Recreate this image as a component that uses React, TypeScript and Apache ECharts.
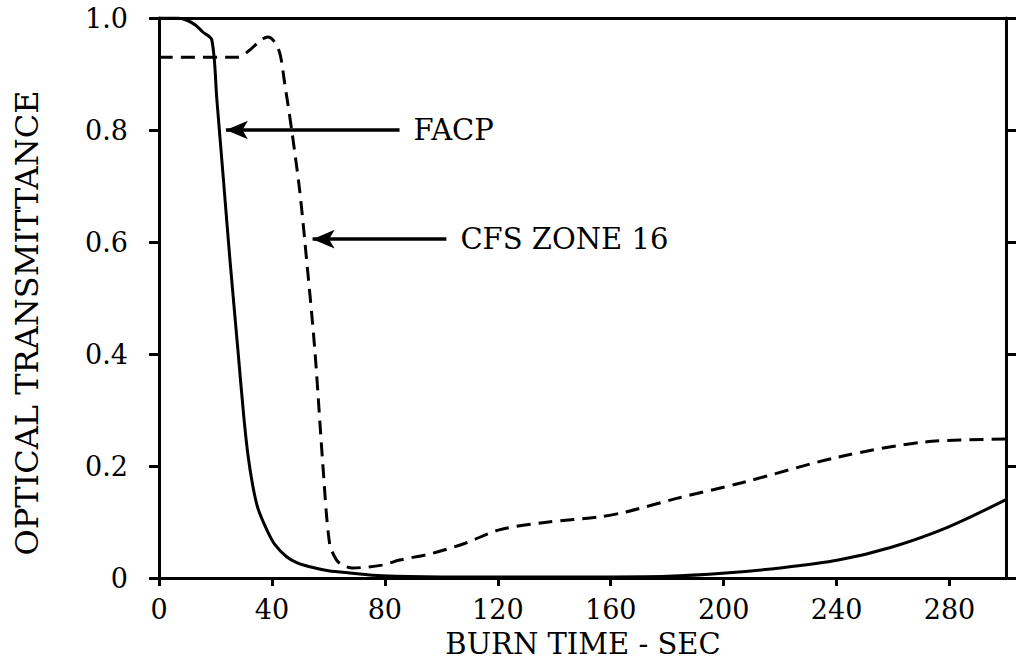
import React, { useEffect, useRef } from "react";
import * as echarts from "echarts";

// Burn time (s) and optical transmittance
const facpX = [0, 6.4, 9.9, 13, 15.5, 18.7, 20.5, 23, 25.1, 27.9, 30, 31.5, 33.2, 35, 38.2, 41, 45.2, 49, 53.4, 60, 67.5, 79, 100, 120, 160, 180, 200.7, 220, 240.6, 259.4, 279.5, 300];
const facpY = [1.0, 1.0, 0.996, 0.987, 0.975, 0.961, 0.854, 0.7, 0.57, 0.41, 0.29, 0.22, 0.165, 0.125, 0.086, 0.06, 0.038, 0.027, 0.02, 0.013, 0.009, 0.004, 0.002, 0.002, 0.002, 0.003, 0.009, 0.018, 0.032, 0.055, 0.091, 0.14];

const cfsX = [0, 27.9, 32.2, 35.5, 38.5, 40.5, 42.8, 44.5, 47, 49.8, 51.6, 55.1, 58, 60.4, 62.9, 65.5, 68.6, 79, 85.2, 96.8, 108.7, 120.5, 138, 155.8, 165.4, 184, 206.4, 240.6, 271.4, 300];
const cfsY = [0.93, 0.93, 0.943, 0.958, 0.966, 0.96, 0.937, 0.884, 0.8, 0.693, 0.604, 0.413, 0.205, 0.0625, 0.032, 0.022, 0.018, 0.023, 0.032, 0.044, 0.0625, 0.086, 0.1, 0.109, 0.118, 0.143, 0.17, 0.216, 0.243, 0.248];

const xTicks = [0, 40, 80, 120, 160, 200, 240, 280];
const yTicks = [0, 0.2, 0.4, 0.6, 0.8, 1.0];

// annotations: arrow tip and tail in data units, with label
const facpArrow = { tip: [23.7, 0.8], tail: [85.2, 0.8], label: "FACP" };
const cfsArrow = { tip: [54.4, 0.605], tail: [101.8, 0.605], label: "CFS ZONE 16" };

const SERIF = "'DejaVu Serif', 'Liberation Serif', serif";

export default function App() {
  const ref = useRef<HTMLDivElement>(null);
  useEffect(() => {
    if (!ref.current) return;
    const chart = echarts.init(ref.current, null, { renderer: "svg" });
    const toPairs = (xs: number[], ys: number[]) => xs.map((x, i) => [x, ys[i]]);
    const arrowLine = (a: { tip: number[]; tail: number[]; label: string }) => ({
      silent: true,
      symbol: ["arrow", "none"],
      symbolSize: [14, 22],
      lineStyle: { color: "#000", width: 3.5, type: "solid" },
      label: {
        show: true,
        position: "end",
        formatter: a.label,
        color: "#000",
        fontFamily: SERIF,
        fontSize: 29,
        distance: 14,
      },
      data: [[{ coord: a.tip }, { coord: a.tail }]],
    });
    chart.setOption({
      animation: false,
      backgroundColor: "#fff",
      grid: { left: 159, right: 11, top: 18, bottom: 82, containLabel: false },
      xAxis: [
        {
          type: "value",
          min: 0,
          max: 300,
          interval: 40,
          axisLine: { show: true, lineStyle: { color: "#000", width: 3 } },
          axisTick: { show: true, inside: false, length: 8, lineStyle: { color: "#000", width: 3 } },
          axisLabel: {
            show: true,
            margin: 18,
            color: "#000",
            fontFamily: SERIF,
            fontSize: 27,
            showMaxLabel: false,
            formatter: (v: number) => (xTicks.includes(v) ? String(v) : ""),
          },
          splitLine: { show: false },
        },
        {
          type: "value",
          position: "top",
          min: 0,
          max: 300,
          interval: 40,
          axisLine: { show: true, onZero: false, lineStyle: { color: "#000", width: 3 } },
          axisTick: { show: false },
          axisLabel: { show: false },
          splitLine: { show: false },
        },
      ],
      yAxis: [
        {
          type: "value",
          min: 0,
          max: 1,
          interval: 0.2,
          axisLine: { show: true, lineStyle: { color: "#000", width: 3 } },
          axisTick: { show: true, inside: false, length: 10, lineStyle: { color: "#000", width: 3 } },
          axisLabel: {
            show: true,
            margin: 31,
            color: "#000",
            fontFamily: SERIF,
            fontSize: 27,
            formatter: (v: number) => {
              const t = yTicks.find((k) => Math.abs(k - v) < 1e-6);
              if (t === undefined) return "";
              return t === 0 ? "0" : t.toFixed(1);
            },
          },
          splitLine: { show: false },
        },
        {
          type: "value",
          position: "right",
          min: 0,
          max: 1,
          interval: 0.2,
          axisLine: { show: true, onZero: false, lineStyle: { color: "#000", width: 3 } },
          axisTick: { show: true, inside: false, length: 10, lineStyle: { color: "#000", width: 3 } },
          axisLabel: { show: false },
          splitLine: { show: false },
        },
      ],
      graphic: [
        {
          type: "text",
          x: 27,
          y: 323,
          rotation: Math.PI / 2,
          style: {
            text: "OPTICAL TRANSMITTANCE",
            fill: "#000",
            font: `32px ${SERIF}`,
            align: "center",
            verticalAlign: "middle",
          },
        },
        {
          type: "text",
          x: 583,
          y: 644,
          style: {
            text: "BURN TIME - SEC",
            fill: "#000",
            font: `29px ${SERIF}`,
            align: "center",
            verticalAlign: "middle",
          },
        },
      ],
      series: [
        {
          name: "FACP",
          type: "line",
          data: toPairs(facpX, facpY),
          showSymbol: false,
          smooth: 0.3,
          lineStyle: { color: "#000", width: 3, type: "solid" },
          markLine: arrowLine(facpArrow),
        },
        {
          name: "CFS ZONE 16",
          type: "line",
          data: toPairs(cfsX, cfsY),
          showSymbol: false,
          smooth: 0.3,
          lineStyle: { color: "#000", width: 3, type: [14, 8] },
          markLine: arrowLine(cfsArrow),
        },
      ],
    });
    return () => chart.dispose();
  }, []);
  return (
    <div
      ref={ref}
      style={{ position: "fixed", left: 0, top: 0, width: 1017, height: 660, background: "#fff" }}
    />
  );
}
